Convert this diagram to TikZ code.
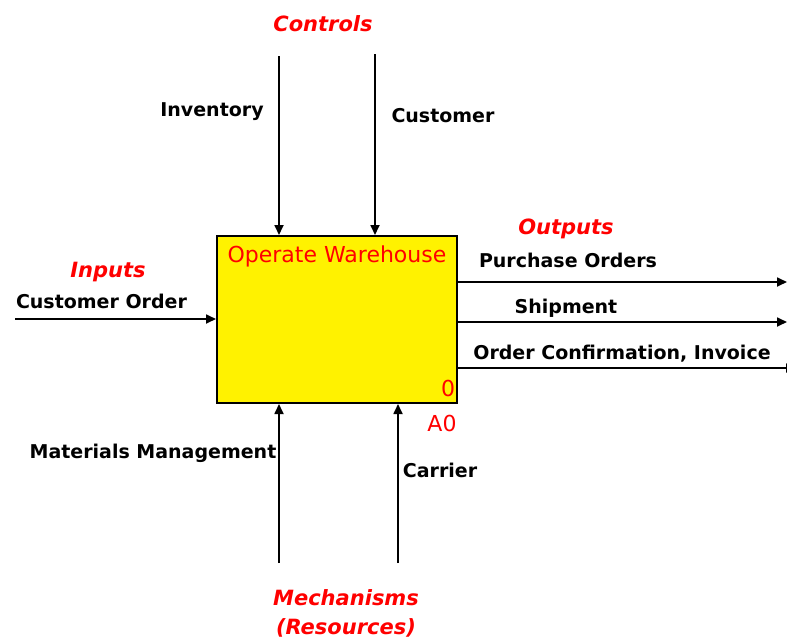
\documentclass[tikz,border=0pt]{standalone}
\usepackage{fontspec}
\setmainfont{DejaVu Sans}
\usetikzlibrary{arrows.meta}
\tikzset{
  flow/.style={line width=1.7pt,-{Triangle[length=10pt,width=9pt]}},
  lbl/.style={font=\fontsize{19}{22}\selectfont\bfseries,anchor=base,inner sep=0pt},
  cat/.style={font=\fontsize{21}{24}\selectfont\bfseries\itshape,text=red,anchor=base,inner sep=0pt},
  redtxt/.style={font=\fontsize{22}{24}\selectfont,text=red,anchor=base,inner sep=0pt},
  actbox/.style={draw=black,line width=2pt,fill=yellow,minimum width=240pt,minimum height=167pt,inner sep=0pt}
}
\begin{document}
\begin{tikzpicture}[x=1pt,y=-1pt]
\useasboundingbox (0,0) rectangle (787,643);
\fill[white] (0,0) rectangle (787,643);
\node[actbox] (box) at (337,319.5) {};
\node[redtxt] (title) at (337,262) {Operate Warehouse};
\node[redtxt] (zero) at (448,396) {0};
\node[redtxt] (aref) at (442,431) {A0};
% controls
\node[cat] (controls) at (323,31) {Controls};
\coordinate (c1) at (279,56);
\coordinate (c2) at (375,54);
\draw[flow] (c1) -- (c1 |- box.north);
\draw[flow] (c2) -- (c2 |- box.north);
\node[lbl] (inv) at (212,116) {Inventory};
\node[lbl] (cust) at (443,122) {Customer};
% inputs
\node[cat] (inputs) at (108,277) {Inputs};
\node[lbl] (corder) at (101.5,308) {Customer Order};
\coordinate (i1) at (15,319);
\draw[flow] (i1) -- (i1 -| box.west);
% outputs
\node[cat] (outputs) at (566,234) {Outputs};
\coordinate (o1) at (787,282);
\coordinate (o2) at (787,322);
\coordinate (o3) at (796,368);
\draw[flow] (o1 -| box.east) -- (o1);
\draw[flow] (o2 -| box.east) -- (o2);
\draw[flow] (o3 -| box.east) -- (o3);
\node[lbl] (po) at (568,267) {Purchase Orders};
\node[lbl] (ship) at (566,313) {Shipment};
\node[lbl] (oci) at (622,359) {Order Confirmation, Invoice};
% mechanisms
\coordinate (m1) at (279,563);
\coordinate (m2) at (398,563);
\draw[flow] (m1) -- (m1 |- box.south);
\draw[flow] (m2) -- (m2 |- box.south);
\node[lbl] (mm) at (153,458) {Materials Management};
\node[lbl] (carrier) at (440,477) {Carrier};
\node[cat] (mech) at (346,605) {Mechanisms};
\node[cat] (res) at (346,634) {(Resources)};
\end{tikzpicture}
\end{document}
